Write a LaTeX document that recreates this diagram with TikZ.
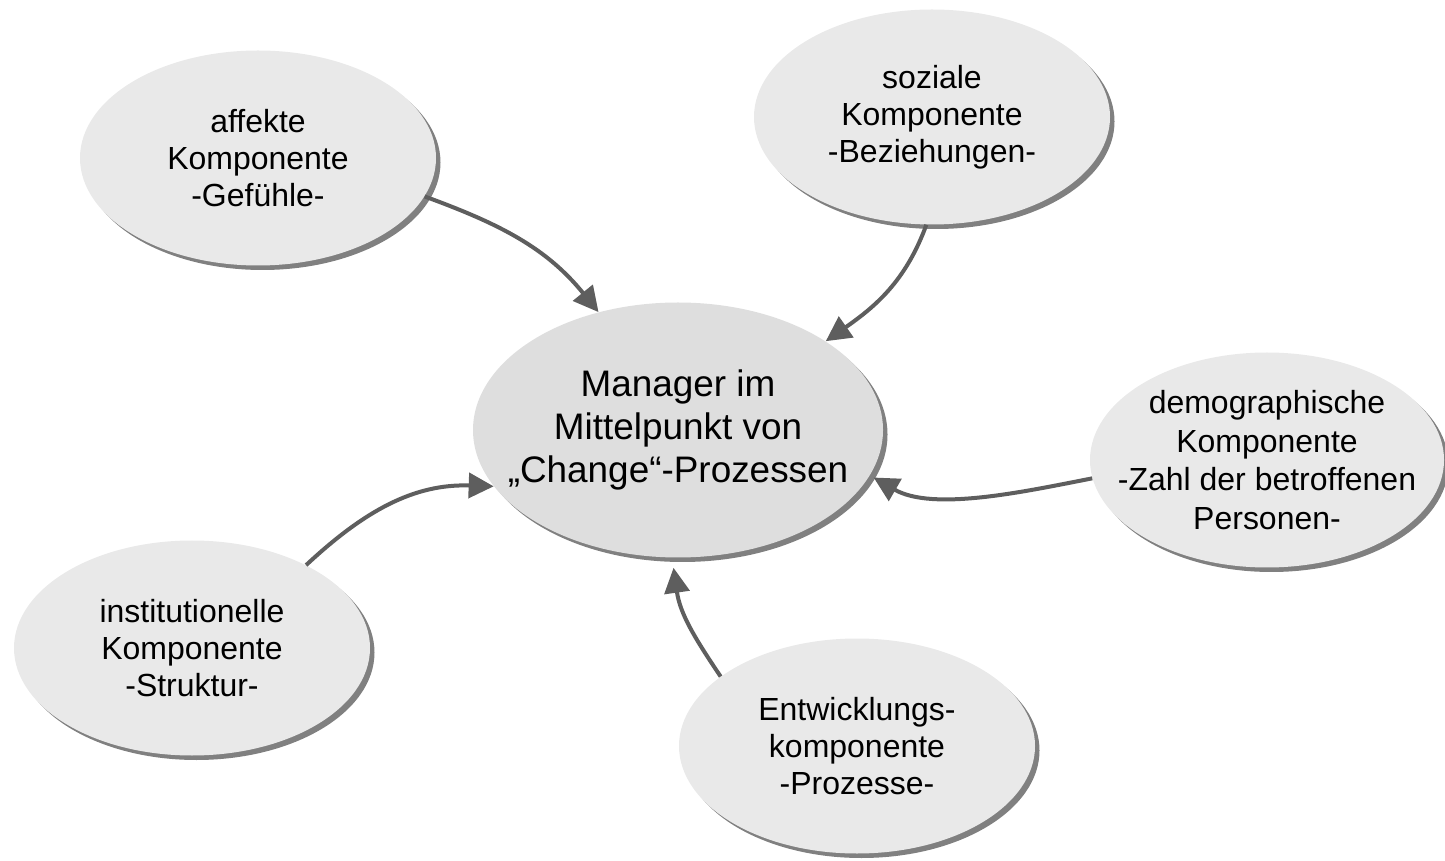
\documentclass[tikz,border=0pt]{standalone}
\usepackage{fontspec}
\setmainfont{Liberation Sans}
\usetikzlibrary{shapes.geometric,shadows,arrows.meta}
\definecolor{kompfill}{HTML}{E9E9E9}
\definecolor{mittefill}{HTML}{DEDEDE}
\definecolor{pfeilgrau}{HTML}{5E5E5E}
\begin{document}
\begin{tikzpicture}[
    komp/.style={ellipse, fill=kompfill, inner xsep=-0.8cm, inner ysep=0pt, align=center,
        minimum width=7.12cm, minimum height=4.3cm,
        font=\fontsize{18.2}{21.2}\selectfont,
        drop shadow={shadow xshift=0.09cm, shadow yshift=-0.09cm, fill=black!50, opacity=1}},
    mitte/.style={komp, fill=mittefill, minimum width=8.2cm, minimum height=5.1cm,
        font=\fontsize{21}{24.5}\selectfont},
    pfeil/.style={line width=0.08cm, draw=pfeilgrau,
        -{Triangle[length=0.5cm, width=0.5cm, fill=pfeilgrau]}}
]
    \useasboundingbox (0,0) rectangle (28.9,17.2);
    \node[mitte] (mgr) at (13.56,8.6) {Manager im\\Mittelpunkt von\\\char"201E Change\char"201C-Prozessen};
    \node[komp] (aff) at (5.16,14.04) {affekte\\Komponente\\-Gefühle-};
    \node[komp] (soz) at (18.64,14.86) {soziale\\Komponente\\-Beziehungen-};
    \node[komp, minimum width=7.08cm, font=\fontsize{18.2}{22}\selectfont] (dem) at (25.34,8.0) {demographische\\Komponente\\-Zahl der betroffenen\\Personen-};
    \node[komp] (inst) at (3.84,4.24) {institutionelle\\Komponente\\-Struktur-};
    \node[komp] (ent) at (17.14,2.28) {Entwicklungs-\\komponente\\-Prozesse-};
    % Pfeile zur Mitte
    \draw[pfeil] (aff.-13) to[out=-20, in=129] (mgr.124);
    \draw[pfeil] (soz.-93) to[out=-110, in=35] (mgr.31);
    \draw[pfeil] (dem.186) to[out=191, in=-30, looseness=0.8] ([xshift=0.1cm]mgr.-14);
    \draw[pfeil] (ent.153) to[out=124, in=-82] ([yshift=-0.2cm]mgr.-92);
    \draw[pfeil] (inst.36) to[out=43, in=178] (mgr.197);
\end{tikzpicture}
\end{document}
